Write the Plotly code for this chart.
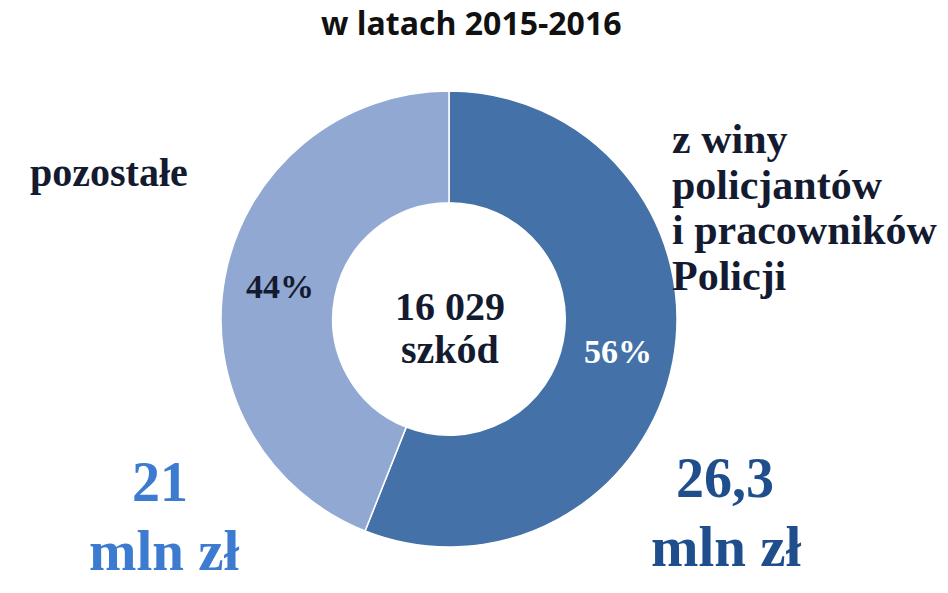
import plotly.graph_objects as go

# data
categories = ["z winy policjantów i pracowników Policji", "pozostałe"]
shares = [56, 44]
amounts = ["26,3", "21"]
total_label = "16 029"
title_text = "w latach 2015-2016"

W, H = 948, 593
SERIF = "Liberation Serif"
NAVY = "#141b30"


def px(x, y):
    return x / W, 1 - y / H


fig = go.Figure()
fig.add_trace(go.Pie(
    labels=categories,
    values=shares,
    hole=0.51,
    sort=False,
    direction="clockwise",
    rotation=0,
    marker=dict(colors=["#4571a9", "#90a8d2"], line=dict(color="white", width=1.5)),
    texttemplate="<b>%{percent:.0%}</b>",
    textposition="inside",
    insidetextorientation="horizontal",
    textfont=dict(family=SERIF, size=34, color=["white", NAVY]),
    domain=dict(x=[221 / W, 677 / W], y=[1 - 547 / H, 1 - 91 / H]),
    showlegend=False,
    hoverinfo="label+percent",
))

ann = []


def add(text, x, y, size, color=NAVY, family=SERIF, xanchor="center"):
    ax, ay = px(x, y)
    ann.append(dict(text="<b>" + text + "</b>", x=ax, y=ay, xref="paper", yref="paper",
                    xanchor=xanchor, yanchor="middle", showarrow=False,
                    font=dict(family=family, size=size, color=color)))


# title
add(title_text, 471, 22, 32, color="#111111", family="Open Sans")

# left label
add(categories[1], 28, 172, 40, xanchor="left")

# right label, one line at a time
right_lines = ["z winy", "policjantów", "i pracowników", "Policji"]
for i, line in enumerate(right_lines):
    add(line, 670, 139 + i * 45.5, 42, xanchor="left")

# centre
add(total_label, 450, 306, 40)
add("szkód", 450, 349, 40)

# amounts
add(amounts[1], 160, 482, 56, color="#3c7bd0")
add("mln zł", 164, 550, 57, color="#3c7bd0")
add(amounts[0], 725, 478, 56, color="#1f4e8c")
add("mln zł", 726, 546, 57, color="#1f4e8c")

fig.update_layout(
    width=W, height=H,
    margin=dict(l=0, r=0, t=0, b=0),
    paper_bgcolor="white",
    plot_bgcolor="white",
    annotations=ann,
)

fig.write_html("out.html", config={"displayModeBar": False},
               post_script="document.body.style.margin='0';")
